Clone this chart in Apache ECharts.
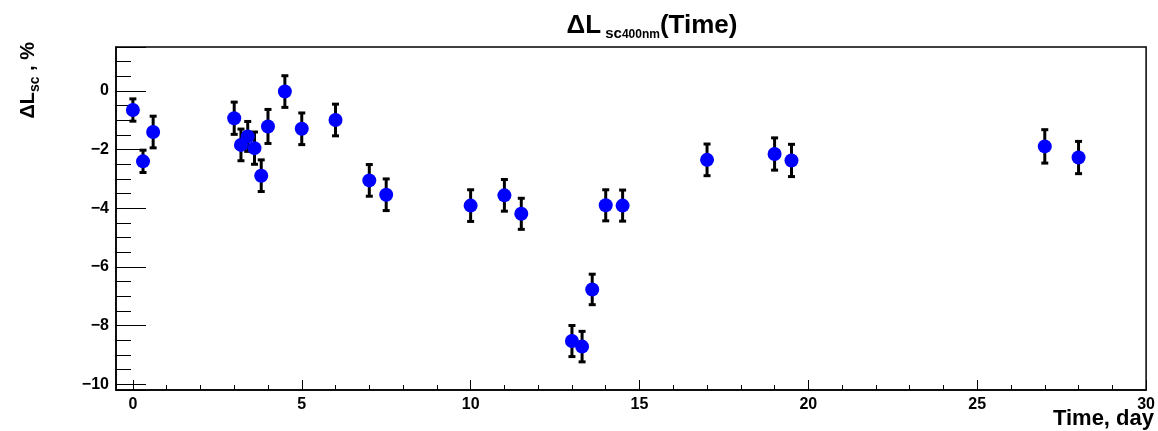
<!DOCTYPE html>
<html>
<head>
<meta charset="utf-8">
<script src="https://cdn.jsdelivr.net/npm/echarts@6/dist/echarts.min.js"></script>
<style>
html,body{margin:0;padding:0;background:#fff;}
#chart{width:1158px;height:431px;}
</style>
</head>
<body>
<div id="chart"></div>
<script>
// Data
const timeDays = [0, 0.3, 0.6, 3.0, 3.2, 3.4, 3.6, 3.8, 4.0, 4.5, 5.0, 6.0, 7.0, 7.5, 10.0, 11.0, 11.5, 13.0, 13.3, 13.6, 14.0, 14.5, 17.0, 19.0, 19.5, 27.0, 28.0];
const deltaL = [-0.65, -2.40, -1.40, -0.93, -1.84, -1.55, -1.95, -2.89, -1.21, -0.02, -1.29, -0.99, -3.05, -3.54, -3.91, -3.56, -4.19, -8.53, -8.72, -6.77, -3.90, -3.91, -2.35, -2.15, -2.37, -1.89, -2.27];
const deltaErr = [0.38, 0.38, 0.54, 0.55, 0.54, 0.51, 0.55, 0.54, 0.58, 0.54, 0.54, 0.54, 0.54, 0.54, 0.54, 0.54, 0.53, 0.53, 0.52, 0.52, 0.53, 0.53, 0.54, 0.55, 0.55, 0.57, 0.55];
const xLabelStep = 5;
const yLabelStep = 2;

const points = timeDays.map((t, i) => [t, deltaL[i], deltaErr[i]]);

const FONT = '"Liberation Sans", Arial, Helvetica, sans-serif';
const fmtNum = (v, step) => {
  if (Math.abs(v / step - Math.round(v / step)) > 1e-6) return '';
  const r = Math.round(v);
  return r < 0 ? '\u2212' + Math.abs(r) : String(r);
};

const chart = echarts.init(document.getElementById('chart'), null, {renderer: 'canvas'});
const labelStyle = {color: '#000', fontFamily: FONT, fontWeight: 'bold', fontSize: 16};

chart.setOption({
  animation: false,
  backgroundColor: '#fff',
  grid: {left: 116, right: 10, top: 47, bottom: 41, show: true, borderColor: '#000', borderWidth: 1.5, backgroundColor: 'transparent'},
  xAxis: [
    {type: 'value', min: -0.5, max: 30, splitNumber: 30, position: 'bottom',
     axisLine: {show: true, onZero: false, lineStyle: {color: '#000', width: 1.5}},
     axisTick: {show: true, inside: true, length: 5, lineStyle: {color: '#000', width: 1}},
     splitLine: {show: false},
     axisLabel: Object.assign({margin: 7, formatter: v => fmtNum(v, xLabelStep), showMinLabel: true, showMaxLabel: true, hideOverlap: false}, labelStyle)},
    {type: 'value', min: -0.5, max: 30, splitNumber: 6, position: 'bottom',
     axisLine: {show: false, onZero: false},
     axisTick: {show: true, inside: true, length: 10, lineStyle: {color: '#000', width: 1}},
     splitLine: {show: false},
     axisLabel: {show: false}}
  ],
  yAxis: [
    {type: 'value', min: -10.2, max: 1.5, splitNumber: 23, position: 'left',
     axisLine: {show: true, onZero: false, lineStyle: {color: '#000', width: 1.5}},
     axisTick: {show: true, inside: true, length: 15, lineStyle: {color: '#000', width: 1}},
     splitLine: {show: false},
     axisLabel: Object.assign({margin: 7, formatter: v => fmtNum(v, yLabelStep), showMinLabel: true, showMaxLabel: true, hideOverlap: false}, labelStyle)},
    {type: 'value', min: -10.2, max: 1.5, splitNumber: 5, position: 'left',
     axisLine: {show: false, onZero: false},
     axisTick: {show: true, inside: true, length: 30, lineStyle: {color: '#000', width: 1}},
     splitLine: {show: false},
     axisLabel: {show: false}}
  ],
  graphic: [
    {type: 'text', x: 652, y: 26, z: 100,
     style: {text: '{a|\u0394L}{b| sc}{c|400nm}{a|(Time)}', align: 'center', verticalAlign: 'middle', fill: '#000',
       rich: {
         a: {fontFamily: FONT, fontWeight: 'bold', fontSize: 26, lineHeight: 30, fill: '#000'},
         b: {fontFamily: FONT, fontWeight: 'bold', fontSize: 15, lineHeight: 22, verticalAlign: 'bottom', fill: '#000'},
         c: {fontFamily: FONT, fontWeight: 'bold', fontSize: 12, lineHeight: 12, verticalAlign: 'bottom', fill: '#000'}
       }}},
    {type: 'text', x: 1154, y: 419, z: 100,
     style: {text: 'Time, day', align: 'right', verticalAlign: 'middle', fill: '#000',
       fontFamily: FONT, fontWeight: 'bold', fontSize: 22}},
    {type: 'text', x: 28, y: 42, rotation: Math.PI / 2, z: 100,
     style: {text: '{a|\u0394L}{b|sc}{a| , %}', align: 'right', verticalAlign: 'middle', fill: '#000',
       rich: {
         a: {fontFamily: FONT, fontWeight: 'bold', fontSize: 20, lineHeight: 28, fill: '#000'},
         b: {fontFamily: FONT, fontWeight: 'bold', fontSize: 14, lineHeight: 14, verticalAlign: 'bottom', fill: '#000'}
       }}}
  ],
  series: [
    {type: 'custom', xAxisIndex: 0, yAxisIndex: 0, data: points, z: 2,
     renderItem: function (params, api) {
       const x = api.value(0), y = api.value(1), e = api.value(2);
       const hi = api.coord([x, y + e]);
       const lo = api.coord([x, y - e]);
       const w = 3.5;
       const st = {stroke: '#000', lineWidth: 3};
       return {type: 'group', children: [
         {type: 'line', shape: {x1: hi[0], y1: hi[1], x2: lo[0], y2: lo[1]}, style: st},
         {type: 'line', shape: {x1: hi[0] - w, y1: hi[1], x2: hi[0] + w, y2: hi[1]}, style: st},
         {type: 'line', shape: {x1: lo[0] - w, y1: lo[1], x2: lo[0] + w, y2: lo[1]}, style: st}
       ]};
     }},
    {type: 'scatter', xAxisIndex: 0, yAxisIndex: 0, data: points.map(p => [p[0], p[1]]), z: 3,
     symbol: 'circle', symbolSize: 14, itemStyle: {color: '#0000ff', opacity: 1}}
  ]
});
</script>
</body>
</html>
